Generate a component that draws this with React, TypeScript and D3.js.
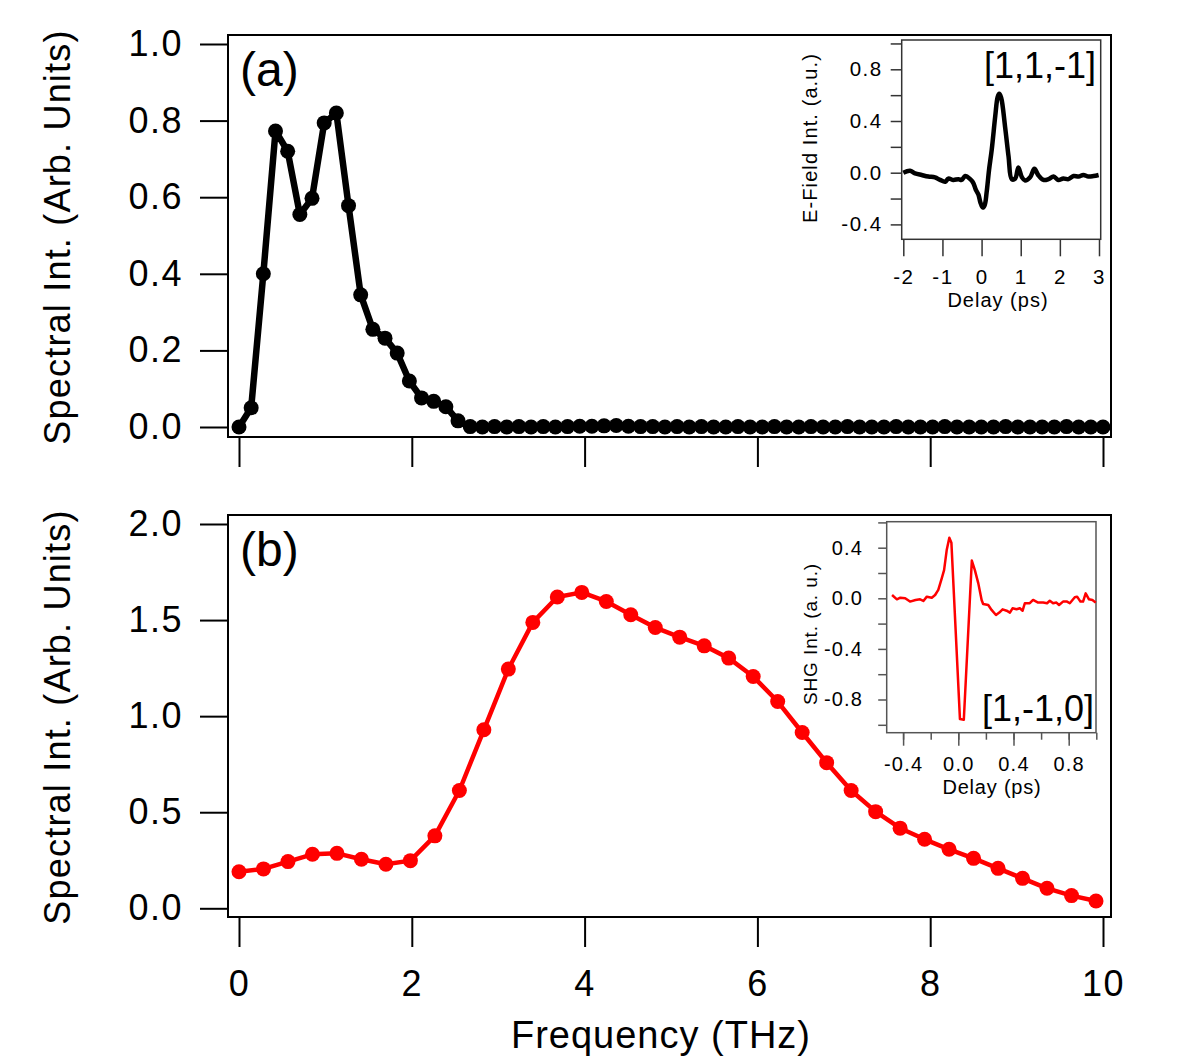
import * as d3 from "d3";
import { useEffect, useRef } from "react";

const W = 1200;
const H = 1062;
const FONT = "'Liberation Sans', Arial, Helvetica, sans-serif";

// (a) spectral intensity of the [1,1,-1] field, 72 bins, grid step DF_A THz
const DF_A = 10 / 71;
const specA = [
    0.0, 0.05, 0.4, 0.773, 0.72, 0.555, 0.597, 0.794, 0.82, 0.578,
    0.345, 0.255, 0.232, 0.193, 0.12, 0.076, 0.067, 0.053, 0.016, 0.001,
    0.0, 0.001, 0.0, 0.001, 0.0, 0.001, 0.0, 0.001, 0.002, 0.002,
    0.003, 0.004, 0.002, 0.001, 0.001, 0.0, 0.001, 0.0, 0.001, 0.0,
    0.0, 0.001, 0.0, 0.0, 0.001, 0.0, 0.0, 0.001, 0.0, 0.0,
    0.001, 0.0, 0.0, 0.0, 0.001, 0.0, 0.0, 0.0, 0.001, 0.0,
    0.0, 0.0, 0.0, 0.001, 0.0, 0.0, 0.0, 0.0, 0.001, 0.0,
    0.0, 0.0,
];

// (b) spectral intensity of the [1,-1,0] SHG signal, grid step DF_B THz
const DF_B = 0.2834;
const specB = [
    0.19, 0.205, 0.243, 0.281, 0.286, 0.255, 0.229, 0.248, 0.377, 0.613,
    0.929, 1.245, 1.488, 1.62, 1.644, 1.597, 1.528, 1.461, 1.411, 1.366,
    1.302, 1.206, 1.076, 0.915, 0.758, 0.613, 0.503, 0.417, 0.359, 0.307,
    0.26, 0.208, 0.156, 0.104, 0.066, 0.038,
];

// inset (a): E-field trace
const delayA = [
    -2.0, -1.83, -1.7, -1.53, -1.36, -1.19, -1.06, -0.93, -0.85, -0.72,
    -0.59, -0.51, -0.42, -0.29, -0.21, -0.15, -0.08, -0.03, 0.03, 0.08,
    0.13, 0.19, 0.26, 0.35, 0.41, 0.45, 0.5, 0.6, 0.69, 0.77,
    0.86, 0.94, 1.03, 1.11, 1.24, 1.35, 1.45, 1.58, 1.71, 1.84,
    1.96, 2.09, 2.22, 2.35, 2.48, 2.6, 2.73, 2.86, 2.99,
];
const fieldA = [
    0.0, 0.015, -0.005, -0.018, -0.03, -0.036, -0.056, -0.07, -0.046, -0.056,
    -0.05, -0.056, -0.026, -0.05, -0.08, -0.13, -0.17, -0.23, -0.27, -0.25,
    -0.15, 0.02, 0.18, 0.44, 0.585, 0.61, 0.58, 0.356, 0.124, -0.05,
    -0.045, 0.04, -0.035, -0.06, -0.035, 0.03, -0.02, -0.056, -0.05, -0.03,
    -0.056, -0.044, -0.05, -0.026, -0.03, -0.018, -0.03, -0.026, -0.018,
];

// inset (b): SHG trace
const delayB = [
    -0.48, -0.445, -0.42, -0.385, -0.35, -0.31, -0.277, -0.253, -0.228, -0.192,
    -0.168, -0.145, -0.12, -0.103, -0.084, -0.065, -0.05, 0.012, 0.04, 0.098,
    0.12, 0.145, 0.169, 0.18, 0.217, 0.241, 0.273, 0.297, 0.321, 0.35,
    0.374, 0.393, 0.422, 0.446, 0.466, 0.482, 0.518, 0.542, 0.578, 0.615,
    0.643, 0.663, 0.687, 0.711, 0.73, 0.759, 0.788, 0.808, 0.844, 0.861,
    0.885, 0.904, 0.923, 0.947, 0.972, 0.996,
];
const shgB = [
    0.026, -0.008, 0.005, 0.0, -0.026, -0.013, -0.008, -0.021, 0.013, 0.005,
    0.026, 0.066, 0.158, 0.223, 0.381, 0.478, 0.44, -0.955, -0.96, 0.298,
    0.223, 0.118, -0.013, -0.045, -0.053, -0.092, -0.132, -0.113, -0.087, -0.098,
    -0.113, -0.079, -0.087, -0.079, -0.098, -0.039, -0.039, -0.013, -0.034, -0.034,
    -0.039, -0.019, -0.039, -0.034, -0.053, -0.026, -0.026, -0.039, 0.008, 0.013,
    -0.026, -0.026, 0.039, -0.008, -0.013, -0.034,
];

const freqTicks = [0, 2, 4, 6, 8, 10];
const yTicksA = [0, 0.2, 0.4, 0.6, 0.8, 1.0];
const yTicksB = [0, 0.5, 1.0, 1.5, 2.0];
const insAxTicks = [-2, -1, 0, 1, 2, 3];
const insAyTicks = [-0.4, -0.2, 0, 0.2, 0.4, 0.6, 0.8, 1.0];
const insAyLabels = [-0.4, 0, 0.4, 0.8];
const insBxTicks = [-0.4, -0.2, 0, 0.2, 0.4, 0.6, 0.8, 1.0];
const insBxLabels = [-0.4, 0, 0.4, 0.8];
const insByTicks = [-1.0, -0.8, -0.6, -0.4, -0.2, 0, 0.2, 0.4, 0.6];
const insByLabels = [-0.8, -0.4, 0, 0.4];

const fmt1 = (d: d3.NumberValue) => (+d).toFixed(1);

type Sel = d3.Selection<SVGGElement, unknown, null, undefined>;

function styleAxis(g: Sel, size: number, color: string, width: number, spacing = 0) {
    g.attr("font-family", FONT).attr("font-size", size);
    g.select(".domain").remove();
    g.selectAll(".tick line").attr("stroke", color).attr("stroke-width", width);
    g.selectAll(".tick text").attr("fill", "#000").attr("letter-spacing", spacing);
}

export default function App() {
    const ref = useRef<SVGSVGElement | null>(null);

    useEffect(() => {
        if (!ref.current) return;
        const svg = d3.select(ref.current);
        svg.selectAll("*").remove();

        const x = d3.scaleLinear().domain([0, 10]).range([239, 1103]);
        const yA = d3.scaleLinear().domain([0, 1]).range([427, 44]);
        const yB = d3.scaleLinear().domain([0, 2]).range([908.3, 524]);

        const panels = [
            { y: yA, top: 35, bottom: 437, ticks: yTicksA, data: specA, df: DF_A, color: "#000", lw: 6.5, label: "(a)", labels: false },
            { y: yB, top: 515, bottom: 917, ticks: yTicksB, data: specB, df: DF_B, color: "#ff0000", lw: 4.5, label: "(b)", labels: true },
        ];

        for (const p of panels) {
            const g = svg.append("g");

            const ay = g.append("g").attr("transform", "translate(228,0)")
                .call(d3.axisLeft(p.y).tickValues(p.ticks).tickSize(28).tickSizeOuter(0).tickPadding(17).tickFormat(fmt1));
            styleAxis(ay, 36, "#000", 2, 1.5);

            const ax = g.append("g").attr("transform", `translate(0,${p.bottom})`)
                .call(d3.axisBottom(x).tickValues(freqTicks).tickSize(30).tickSizeOuter(0).tickPadding(23)
                    .tickFormat(p.labels ? (d) => `${d}` : () => ""));
            styleAxis(ax, 36, "#000", 2, 1.5);

            const pts = p.data.map((v, i) => ({ f: i * p.df, v }));
            const line = d3.line<{ f: number; v: number }>().x((d) => x(d.f)).y((d) => p.y(d.v));
            g.append("path").datum(pts).attr("fill", "none").attr("stroke", p.color)
                .attr("stroke-width", p.lw).attr("stroke-linejoin", "round").attr("d", line);
            g.append("g").selectAll("circle").data(pts).join("circle")
                .attr("cx", (d) => x(d.f)).attr("cy", (d) => p.y(d.v)).attr("r", 7.5).attr("fill", p.color);

            g.append("rect").attr("x", 228).attr("y", p.top).attr("width", 1111 - 228).attr("height", p.bottom - p.top)
                .attr("fill", "none").attr("stroke", "#000").attr("stroke-width", 2);

            g.append("text").attr("x", 240).attr("y", p.top + 51).attr("font-family", FONT).attr("font-size", 48)
                .text(p.label);

            g.append("text").attr("transform", `translate(70,${(p.top + p.bottom) / 2 + 1}) rotate(-90)`)
                .attr("text-anchor", "middle").attr("font-family", FONT).attr("font-size", 36).attr("letter-spacing", 1.2)
                .text("Spectral Int. (Arb. Units)");
        }

        svg.append("text").attr("x", 661).attr("y", 1048).attr("text-anchor", "middle")
            .attr("font-family", FONT).attr("font-size", 38).attr("letter-spacing", 1)
            .text("Frequency (THz)");

        // inset (a)
        {
            const ix = d3.scaleLinear().domain([-2, 3]).range([903.3, 1099]);
            const iy = d3.scaleLinear().domain([0, 0.8]).range([172.7, 69.3]);
            const g = svg.append("g");
            g.append("rect").attr("x", 901.7).attr("y", 40).attr("width", 199).attr("height", 199.3)
                .attr("fill", "#fff").attr("stroke", "#333").attr("stroke-width", 1.5);
            const ay = g.append("g").attr("transform", "translate(901.7,0)")
                .call(d3.axisLeft(iy).tickValues(insAyTicks).tickSize(11).tickSizeOuter(0).tickPadding(8)
                    .tickFormat((d) => (insAyLabels.includes(+d) ? fmt1(d) : "")));
            styleAxis(ay, 20.5, "#333", 1.5, 1.5);
            const ax = g.append("g").attr("transform", "translate(0,239.3)")
                .call(d3.axisBottom(ix).tickValues(insAxTicks).tickSize(17).tickSizeOuter(0).tickPadding(13)
                    .tickFormat((d) => `${d}`));
            styleAxis(ax, 20.5, "#333", 1.5, 1.5);
            const pts = delayA.map((t, i) => ({ t, v: fieldA[i] }));
            g.append("path").datum(pts).attr("fill", "none").attr("stroke", "#000").attr("stroke-width", 4.5)
                .attr("stroke-linejoin", "round")
                .attr("d", d3.line<{ t: number; v: number }>().x((d) => ix(d.t)).y((d) => iy(d.v)).curve(d3.curveCatmullRom));
            g.append("text").attr("x", 1096).attr("y", 78).attr("text-anchor", "end")
                .attr("font-family", FONT).attr("font-size", 36).text("[1,1,-1]");
            g.append("text").attr("x", 998).attr("y", 307).attr("text-anchor", "middle")
                .attr("font-family", FONT).attr("font-size", 20).attr("letter-spacing", 1).text("Delay (ps)");
            g.append("text").attr("transform", "translate(817,138) rotate(-90)").attr("text-anchor", "middle")
                .attr("font-family", FONT).attr("font-size", 20).attr("letter-spacing", 1.1).text("E-Field Int. (a.u.)");
        }

        // inset (b)
        {
            const ix = d3.scaleLinear().domain([0, 0.8]).range([958.3, 1068.7]);
            const iy = d3.scaleLinear().domain([0, 0.4]).range([598.3, 547.7]);
            const g = svg.append("g");
            g.append("rect").attr("x", 886.7).attr("y", 521.7).attr("width", 1096 - 886.7).attr("height", 732.7 - 521.7)
                .attr("fill", "#fff").attr("stroke", "#555").attr("stroke-width", 1.5);
            const ay = g.append("g").attr("transform", "translate(886.7,0)")
                .call(d3.axisLeft(iy).tickValues(insByTicks).tickSize(8.5).tickSizeOuter(0).tickPadding(15)
                    .tickFormat((d) => (insByLabels.includes(+d) ? fmt1(d) : "")));
            styleAxis(ay, 20, "#555", 1.5, 1.2);
            const axMinor = g.append("g").attr("transform", "translate(0,732.7)")
                .call(d3.axisBottom(ix).tickValues(insBxTicks).tickSize(7).tickSizeOuter(0).tickFormat(() => ""));
            styleAxis(axMinor, 20, "#555", 1.5);
            const ax = g.append("g").attr("transform", "translate(0,732.7)")
                .call(d3.axisBottom(ix).tickValues(insBxLabels).tickSize(13).tickSizeOuter(0).tickPadding(11).tickFormat(fmt1));
            styleAxis(ax, 20, "#555", 1.5, 1.2);
            const pts = delayB.map((t, i) => ({ t, v: shgB[i] }));
            g.append("path").datum(pts).attr("fill", "none").attr("stroke", "#ff0000").attr("stroke-width", 2.5)
                .attr("stroke-linejoin", "round")
                .attr("d", d3.line<{ t: number; v: number }>().x((d) => ix(d.t)).y((d) => iy(d.v)));
            g.append("text").attr("x", 1094).attr("y", 721).attr("text-anchor", "end")
                .attr("font-family", FONT).attr("font-size", 36).text("[1,-1,0]");
            g.append("text").attr("x", 992).attr("y", 794).attr("text-anchor", "middle")
                .attr("font-family", FONT).attr("font-size", 20).attr("letter-spacing", 0.8).text("Delay (ps)");
            g.append("text").attr("transform", "translate(817,634) rotate(-90)").attr("text-anchor", "middle")
                .attr("font-family", FONT).attr("font-size", 19).attr("letter-spacing", 0.9).text("SHG Int. (a. u.)");
        }
    }, []);

    return (
        <svg
            ref={ref}
            width={W}
            height={H}
            style={{ position: "absolute", left: 0, top: 0, background: "#fff" }}
        />
    );
}
